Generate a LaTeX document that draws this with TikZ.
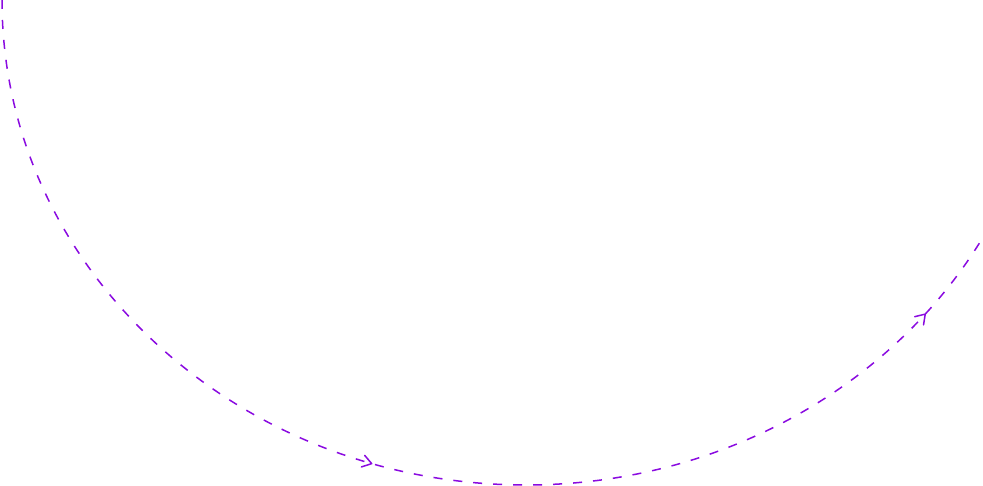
\documentclass[tikz,border=0pt]{standalone}
\usetikzlibrary{decorations.markings}
\definecolor{orbitviolet}{HTML}{8A0BE0}

\tikzset{chevron/.style={solid, line cap=round, line join=round}}

\begin{document}
\begin{tikzpicture}[x=1pt,y=1pt]
\useasboundingbox (0,0) rectangle (983,486);
\draw[orbitviolet, line width=1.5pt, dash pattern=on 9pt off 11pt,
  postaction={decorate},
  decoration={markings,
    mark=at position 0.475 with {\draw[chevron] (-9pt,6pt) -- (0,0) -- (-9pt,-6pt);},
    mark=at position 0.925 with {\draw[chevron] (-9pt,6pt) -- (0,0) -- (-9pt,-6pt);}}]
  (2,486) arc[start angle=180, end angle=331.2, x radius=524, y radius=485];
\end{tikzpicture}
\end{document}
